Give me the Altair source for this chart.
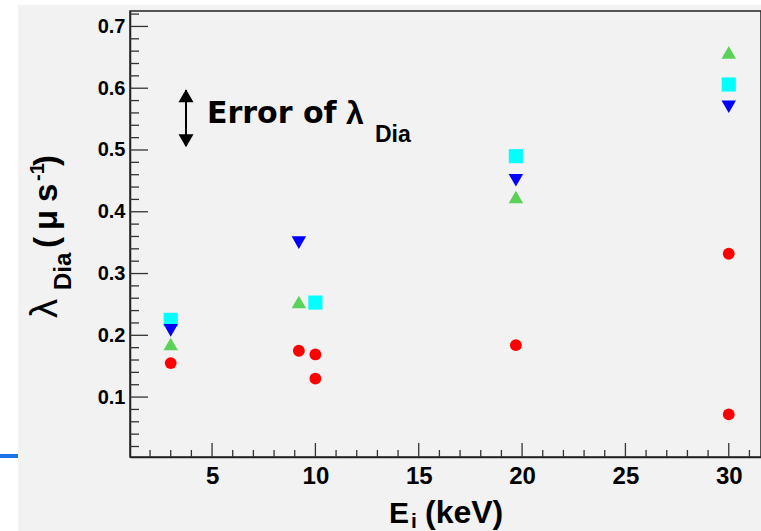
import altair as alt
import pandas as pd

# ---- data ----
red_E = [3.0, 9.2, 10.0, 10.0, 19.7, 30.0, 30.0]
red_L = [0.155, 0.175, 0.169, 0.130, 0.184, 0.332, 0.072]
green_E = [3.0, 9.2, 19.7, 30.0]
green_L = [0.186, 0.254, 0.424, 0.658]
cyan_E = [3.0, 10.0, 19.7, 30.0]
cyan_L = [0.225, 0.253, 0.490, 0.606]
blue_E = [3.0, 9.2, 19.7, 30.0]
blue_L = [0.208, 0.350, 0.451, 0.570]

x_major = [5, 10, 15, 20, 25, 30]
x_minor = [2, 3, 4, 6, 7, 8, 9, 11, 12, 13, 14, 16, 17, 18, 19, 21, 22, 23, 24, 26, 27, 28, 29, 31]
y_major = [0.1, 0.2, 0.3, 0.4, 0.5, 0.6, 0.7]
y_minor = [0.02, 0.04, 0.06, 0.08, 0.12, 0.14, 0.16, 0.18, 0.22, 0.24, 0.26, 0.28,
           0.32, 0.34, 0.36, 0.38, 0.42, 0.44, 0.46, 0.48, 0.52, 0.54, 0.56, 0.58,
           0.62, 0.64, 0.66, 0.68, 0.72]

X_DOM = [1.03, 31.56]
Y_DOM = [0.003, 0.725]
W, H = 631, 446
LEFT, TOP = 130, 11
FONT = "Liberation Sans"
WIDE = "DejaVu Sans"
BG = "#f2f2f2"

xs = alt.Scale(domain=X_DOM, nice=False, zero=False)
ys = alt.Scale(domain=Y_DOM, nice=False, zero=False)
x_axis = alt.Axis(values=x_major, ticks=False, tickSize=0, labelPadding=7, grid=False,
                  labelFont=FONT, labelFontWeight="bold", labelFontSize=24, labelColor="black",
                  domainColor="#222", domainWidth=1.5, format="d", title=None)
y_axis = alt.Axis(values=y_major, ticks=False, tickSize=0, labelPadding=5, grid=False,
                  labelFont=FONT, labelFontWeight="bold", labelFontSize=20, labelColor="black",
                  domainColor="#222", domainWidth=1.5, format=".1f", title=None)

def X(field="E"):
    return alt.X(f"{field}:Q", scale=xs, axis=x_axis, title=None)

def Y(field="L"):
    return alt.Y(f"{field}:Q", scale=ys, axis=y_axis, title=None)

def series(E, L, shape, color, size):
    df = pd.DataFrame({"E": E, "L": L})
    return alt.Chart(df).mark_point(shape=shape, filled=True, color=color, size=size, opacity=1).encode(
        x=X(), y=Y())

# inside ticks
def xticks(vals, length):
    return alt.Chart(pd.DataFrame({"E": vals})).mark_rule(color="#333", strokeWidth=1.3).encode(
        x=X(), y=alt.value(H), y2=alt.value(H - length))

def yticks(vals, length):
    return alt.Chart(pd.DataFrame({"L": vals})).mark_rule(color="#333", strokeWidth=1.3).encode(
        y=Y(), x=alt.value(0), x2=alt.value(length))

def txt(s, x, y, size, bold=True, angle=0, font=FONT):
    kw = dict(align="left", baseline="alphabetic", font=font, fontSize=size,
              fontWeight="bold" if bold else "normal", color="black")
    if angle:
        kw["angle"] = angle
    return alt.Chart(pd.DataFrame({"t": [s]})).mark_text(**kw).encode(
        text="t:N", x=alt.value(x - LEFT), y=alt.value(y - TOP))

def rect(x1, x2, y1, y2, color):
    return alt.Chart(pd.DataFrame({"a": [0]})).mark_rect(color=color).encode(
        x=alt.value(x1 - LEFT), x2=alt.value(x2 - LEFT), y=alt.value(y1 - TOP), y2=alt.value(y2 - TOP))

# error arrow
arrow_x = 186
arrow_line = alt.Chart(pd.DataFrame({"a": [0]})).mark_rule(color="black", strokeWidth=2).encode(
    x=alt.value(arrow_x - LEFT), y=alt.value(90 - TOP), y2=alt.value(146 - TOP))
head_up = alt.Chart(pd.DataFrame({"a": [0]})).mark_point(shape="triangle-up", filled=True, color="black", size=225, opacity=1).encode(
    x=alt.value(arrow_x - LEFT), y=alt.value(95.8 - TOP))
head_dn = alt.Chart(pd.DataFrame({"a": [0]})).mark_point(shape="triangle-down", filled=True, color="black", size=225, opacity=1).encode(
    x=alt.value(arrow_x - LEFT), y=alt.value(140.7 - TOP))

layers = [
    series(red_E, red_L, "circle", "#ff0000", 140),
    rect(0, 18, 0, 531, "white"),
    rect(0, 761, 0, 5, "white"),
    rect(0, 18, 454, 458, "#1a73e8"),
    xticks(x_major, 14), xticks(x_minor, 7),
    yticks(y_major, 18), yticks(y_minor, 9),
    series(green_E, green_L, "triangle-up", "#5ad25a", 210),
    series(cyan_E, cyan_L, "square", "#00ffff", 200),
    series(blue_E, blue_L, "triangle-down", "#0000ff", 210),
    arrow_line, head_up, head_dn,
    txt("Error of", 207, 123, 30, font=WIDE),
    txt("λ", 346, 124, 32),
    txt("Dia", 375, 142, 23),
    # x title
    txt("E", 389, 523, 30),
    txt("i", 411, 528, 21),
    txt("(keV)", 425, 523, 32),
    # y title (rotated, reading upward)
    txt("λ", 57, 318, 38, bold=False, angle=270),
    txt("Dia", 71, 290, 24, angle=270),
    txt("(", 57, 248, 33, angle=270),
    txt("μ", 57, 230, 33, angle=270),
    txt("s", 57, 202, 33, angle=270),
    txt("-1", 44, 181, 20, angle=270),
    txt(")", 57, 166, 33, angle=270),
]

chart = alt.layer(*layers).properties(
    width=W, height=H,
    padding={"left": LEFT, "top": TOP, "right": 0, "bottom": 531 - TOP - H},
    autosize=alt.AutoSizeParams(type="none"),
    background=BG,
).configure_view(stroke="#222", strokeWidth=1.5)

chart.save("out.html", embed_options={"renderer": "svg", "actions": False})
